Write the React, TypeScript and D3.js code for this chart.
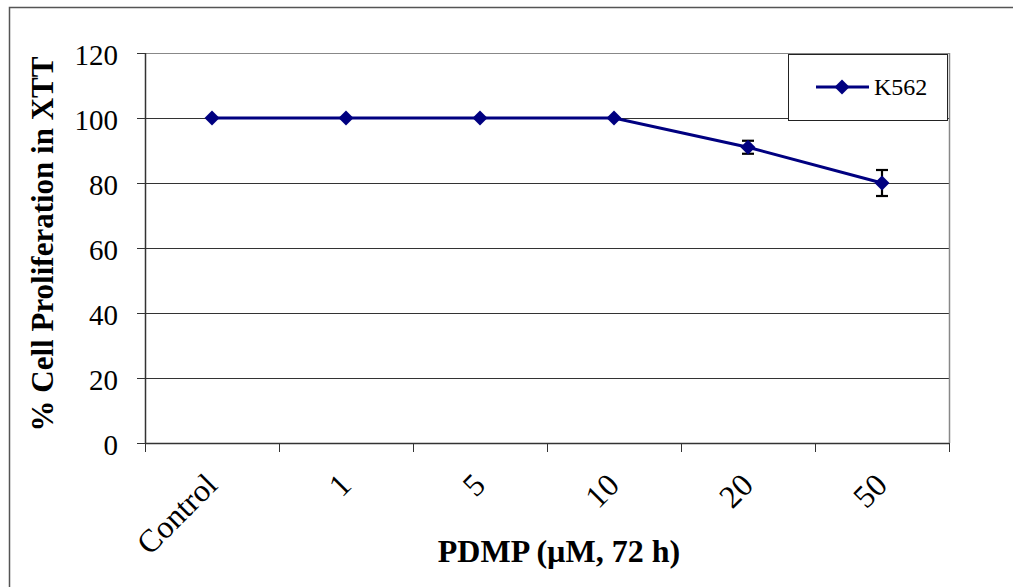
import React from "react";
import * as d3 from "d3";

const categories = ["Control", "1", "5", "10", "20", "50"];
const values = [100, 100, 100, 100, 91, 80];
const errors = [0, 0, 0, 0, 2, 4];
const yTicks = [0, 20, 40, 60, 80, 100, 120];
const seriesName = "K562";

const W = 1013;
const H = 587;
const margin = { left: 145, top: 53, right: 1013 - 949, bottom: 587 - 443 };

export default function App() {
  const x = d3
    .scaleBand<string>()
    .domain(categories)
    .range([margin.left, W - margin.right])
    .paddingInner(0)
    .paddingOuter(0);
  const y = d3.scaleLinear().domain([0, 120]).range([H - margin.bottom, margin.top]);
  const cx = (c: string) => (x(c) ?? 0) + x.bandwidth() / 2;
  const line = d3
    .line<number>()
    .x((_, i) => cx(categories[i]))
    .y((d) => y(d));
  const diamond = d3.symbol().type(d3.symbolSquare).size(112)() as string;
  const font = "'Liberation Serif', 'Times New Roman', serif";
  const x0 = margin.left;
  const x1 = W - margin.right;
  const yb = H - margin.bottom;
  const yt = margin.top;
  const navy = "#000080";
  const boundaries = d3.range(categories.length + 1).map((i) => x0 + i * x.bandwidth());

  return (
    <svg
      width={W}
      height={H}
      style={{ position: "absolute", left: 0, top: 0, background: "#fff", fontFamily: font }}
    >
      <rect x={0} y={0} width={W} height={H} fill="#fff" />
      <rect x={9.5} y={7.5} width={W + 20} height={H + 20} fill="none" stroke="#555" strokeWidth={1.5} />
      {/* gridlines */}
      {yTicks.filter((t) => t > 0).map((t) => (
        <line
          key={t}
          x1={x0}
          x2={x1}
          y1={Math.round(y(t)) + 0.5}
          y2={Math.round(y(t)) + 0.5}
          stroke={t === 120 ? "#888" : "#333"}
          strokeWidth={1}
        />
      ))}
      {/* right plot border */}
      <line x1={x1 + 0.5} x2={x1 + 0.5} y1={yt} y2={yb} stroke="#888" strokeWidth={1.5} />
      {/* y axis */}
      <line x1={x0 + 0.5} x2={x0 + 0.5} y1={yt} y2={yb} stroke="#333" strokeWidth={1.5} />
      {yTicks.map((t) => (
        <g key={t}>
          <line x1={x0 - 8} x2={x0} y1={Math.round(y(t)) + 0.5} y2={Math.round(y(t)) + 0.5} stroke="#333" />
          <text x={118} y={y(t)} dy="0.42em" textAnchor="end" fontSize={29} fill="#000">
            {t}
          </text>
        </g>
      ))}
      {/* x axis */}
      <line x1={x0} x2={x1} y1={yb + 0.5} y2={yb + 0.5} stroke="#333" strokeWidth={1.5} />
      {boundaries.map((b, i) => (
        <line key={i} x1={Math.round(b) + 0.5} x2={Math.round(b) + 0.5} y1={yb} y2={yb + 9} stroke="#333" />
      ))}
      {categories.map((c) => (
        <text
          key={c}
          transform={`translate(${cx(c) + 7},${yb + 44}) rotate(-45)`}
          textAnchor="end"
          fontSize={32}
          fill="#000"
        >
          {c}
        </text>
      ))}
      {/* line */}
      <path d={line(values) ?? ""} fill="none" stroke={navy} strokeWidth={3} />
      {/* error bars */}
      {categories.map((c, i) =>
        errors[i] > 0 ? (
          <g key={c} stroke="#000" strokeWidth={2.2}>
            <line x1={cx(c)} x2={cx(c)} y1={y(values[i] + errors[i])} y2={y(values[i] - errors[i])} />
            <line x1={cx(c) - 6} x2={cx(c) + 6} y1={y(values[i] + errors[i])} y2={y(values[i] + errors[i])} />
            <line x1={cx(c) - 6} x2={cx(c) + 6} y1={y(values[i] - errors[i])} y2={y(values[i] - errors[i])} />
          </g>
        ) : null
      )}
      {categories.map((c, i) => (
        <path key={c} d={diamond} transform={`translate(${cx(c)},${y(values[i])}) rotate(45)`} fill={navy} />
      ))}
      {/* legend */}
      <rect x={788.5} y={54.5} width={159} height={66} fill="#fff" stroke="#222" strokeWidth={1} />
      <line x1={816} x2={869} y1={87} y2={87} stroke={navy} strokeWidth={3} />
      <path d={diamond} transform="translate(842,87) rotate(45)" fill={navy} />
      <text x={874} y={87} dy="0.35em" fontSize={24} fill="#000">
        {seriesName}
      </text>
      {/* axis titles */}
      <text
        transform={`translate(53,244) rotate(-90)`}
        textAnchor="middle"
        fontSize={31}
        fontWeight="bold"
        fill="#000"
      >
        % Cell Proliferation in XTT
      </text>
      <text x={559} y={562} textAnchor="middle" fontSize={32} fontWeight="bold" fill="#000">
        PDMP (µM, 72 h)
      </text>
    </svg>
  );
}
